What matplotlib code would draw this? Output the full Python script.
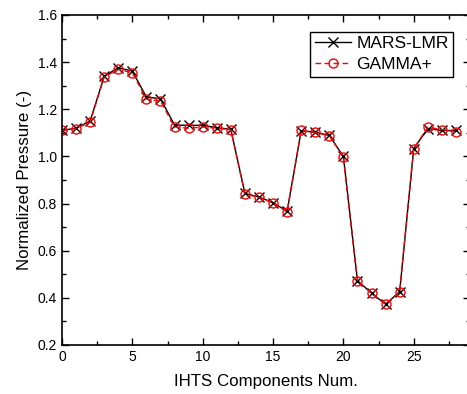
import matplotlib
matplotlib.use("Agg")
import matplotlib.pyplot as plt
from matplotlib.ticker import MultipleLocator, FormatStrFormatter

plt.rcParams['font.family'] = ['Liberation Sans', 'DejaVu Sans']

components = list(range(29))
mars_lmr = [1.110, 1.120, 1.150, 1.340, 1.376, 1.362, 1.252, 1.245, 1.133, 1.132,
            1.132, 1.122, 1.115, 0.843, 0.828, 0.804, 0.767, 1.108, 1.103, 1.089,
            1.000, 0.473, 0.420, 0.373, 0.426, 1.033, 1.118, 1.110, 1.110]
gamma_plus = [1.110, 1.118, 1.146, 1.337, 1.369, 1.355, 1.243, 1.235, 1.125, 1.120,
              1.125, 1.120, 1.113, 0.841, 0.826, 0.803, 0.765, 1.110, 1.102, 1.088,
              0.998, 0.472, 0.420, 0.373, 0.425, 1.033, 1.124, 1.114, 1.104]

fig = plt.figure(figsize=(4.67, 3.94), dpi=100)
ax = fig.add_axes([62/467, 49/394, 408/467, 330/394])

ax.plot(components, mars_lmr, color='black', lw=1.0, marker='x', ms=6.5,
        mew=1.0, label='MARS-LMR')
ax.plot(components, gamma_plus, color='red', lw=1.0, ls=(0, (4, 2.5)), marker='o', ms=6.5,
        mfc='none', mec='red', mew=1.0, label='GAMMA+')

ax.set_xlim(0, 29)
ax.set_ylim(0.2, 1.6)
ax.xaxis.set_major_locator(MultipleLocator(5))
ax.xaxis.set_minor_locator(MultipleLocator(2.5))
ax.yaxis.set_major_locator(MultipleLocator(0.2))
ax.yaxis.set_minor_locator(MultipleLocator(0.1))
ax.yaxis.set_major_formatter(FormatStrFormatter('%.1f'))
ax.tick_params(which='both', direction='in', top=True, right=True, labelsize=10, width=1.0)
ax.tick_params(which='major', length=5)
ax.tick_params(which='minor', length=3)
for s in ax.spines.values():
    s.set_linewidth(1.2)

ax.set_xlabel('IHTS Components Num.', fontsize=12.2, labelpad=7)
ax.set_ylabel('Normalized Pressure (-)', fontsize=12.2, labelpad=4)

leg = ax.legend(loc='upper right', fontsize=12.5, frameon=True, fancybox=False,
                edgecolor='black', framealpha=1, handlelength=2.1, borderpad=0.25,
                labelspacing=0.33, handletextpad=0.3, borderaxespad=0)
leg.get_frame().set_linewidth(1.0)
leg.set_bbox_to_anchor(((453 - 62) / 408, 1 - 17 / 330), transform=ax.transAxes)

fig.savefig('out.png', dpi=100)
